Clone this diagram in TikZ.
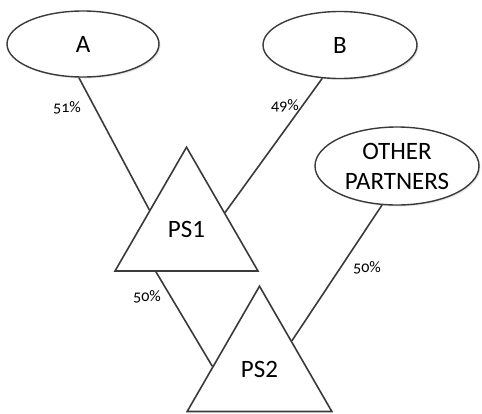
\documentclass[tikz,border=0pt]{standalone}
\usepackage{fontspec}
\setmainfont{Carlito}
\usetikzlibrary{shapes.geometric}
\usetikzlibrary{shadows}
\usetikzlibrary{calc}

\definecolor{linegray}{HTML}{3A3A3A}

\tikzset{
    owner/.style={ellipse, draw=linegray, line width=1.4pt, fill=white,
        inner sep=0pt, align=center, font=\fontsize{25}{30}\selectfont,
        drop shadow={shadow xshift=1.5pt, shadow yshift=-1.5pt, opacity=0.2}},
    fund/.style={regular polygon, regular polygon sides=3, draw=linegray,
        line width=1.6pt, fill=white, inner sep=0pt,
        font=\fontsize{25}{30}\selectfont},
    share/.style={font=\fontsize{16}{19}\selectfont\addfontfeatures{Numbers=OldStyle}},
    link/.style={draw=linegray, line width=1.6pt}
}

\begin{document}
\begin{tikzpicture}[x=1pt, y=-1pt]
        \useasboundingbox (0,0) rectangle (482,413);

        \node[owner, minimum width=152pt, minimum height=66pt] (A) at (83,44) {A};
        \node[owner, minimum width=154pt, minimum height=67pt] (B) at (340,45) {B};
        \node[owner, minimum width=164pt, minimum height=78pt] (Other) at (397,166) {OTHER\\PARTNERS};

        \node[fund, minimum size=165pt] (PS1) at (186.5,229.7) {PS1};
        \node[fund, minimum size=167pt] (PS2) at (259.5,369.7) {PS2};

        \draw[link] (A.-97) -- ($(PS1.corner 1)!0.51!(PS1.corner 2)$);
        \draw[link] (B.-118) -- ($(PS1.corner 1)!0.53!(PS1.corner 3)$);
        \draw[link] (Other.-111) -- ($(PS2.corner 1)!0.44!(PS2.corner 3)$);
        \draw[link] ($(PS1.corner 2)!0.29!(PS1.corner 3)$) -- ($(PS2.corner 1)!0.64!(PS2.corner 2)$);

        \node[share] (shareA) at (67,108) {51\%};
        \node[share] (shareB) at (285,106) {49\%};
        \node[share] (shareOther) at (367,268) {50\%};
        \node[share] (sharePS1) at (147,297) {50\%};
\end{tikzpicture}
\end{document}
